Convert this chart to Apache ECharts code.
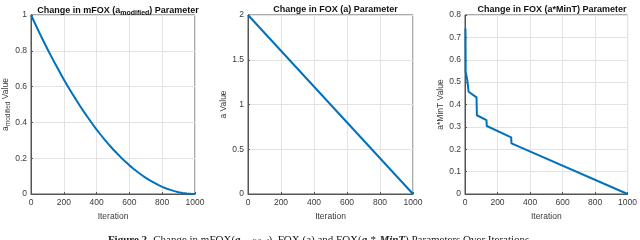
<!DOCTYPE html>
<html><head><meta charset="utf-8">
<script src="https://cdn.jsdelivr.net/npm/echarts@6/dist/echarts.min.js"></script>
<style>html,body{margin:0;padding:0;background:#fff}#c{width:640px;height:240px}</style>
</head><body><div id="c"></div>
<script>
// Chart 1: mFOX a_modified (iteration, value)
const modIter = [0,25,50,75,100,125,150,175,200,225,250,275,300,325,350,375,400,425,450,475,500,525,550,575,600,625,650,675,700,725,750,775,800,825,850,875,900,925,950,975,1000];
const modVal  = [1,0.951,0.903,0.856,0.81,0.766,0.723,0.681,0.64,0.601,0.563,0.526,0.49,0.456,0.423,0.391,0.36,0.331,0.303,0.276,0.25,0.226,0.203,0.181,0.16,0.141,0.123,0.106,0.09,0.076,0.063,0.051,0.04,0.031,0.023,0.016,0.01,0.006,0.003,0.001,0];
// Chart 2: FOX a
const aIter = [0,1000];
const aVal  = [2,0];
// Chart 3: FOX a*MinT
const mintIter = [3,4,13,14,21,22,71,73,132,134,284,286,1000];
const mintVal  = [0.74,0.547,0.54,0.51,0.505,0.457,0.432,0.352,0.33,0.304,0.253,0.226,0];
const xTicks = [0,200,400,600,800,1000];

const pair = (xs, ys) => xs.map((x,i)=>[x,ys[i]]);
const FONT = 'Liberation Sans, Arial, sans-serif';
const lineColor = '#0072BD';
const axisCol = '#555';
const labelCol = '#3a3a3a';
const grids = [
  {left:31, width:164, top:15, height:179},
  {left:248, width:165, top:15, height:179},
  {left:465, width:164, top:15, height:179}
];
const yCfg = [
  {max:1, interval:0.2, name:'{t|a}{s|modified}{t| Value}'},
  {max:2, interval:0.5, name:'a Value'},
  {max:0.8, interval:0.1, name:'a*MinT Value'}
];
const titles = [
  '{t|Change in mFOX (a}{s|modified}{t|) Parameter}',
  'Change in FOX (a) Parameter',
  'Change in FOX (a*MinT) Parameter'
];
const series = [pair(modIter,modVal), pair(aIter,aVal), pair(mintIter,mintVal)];

const option = {
  backgroundColor:'#fff',
  animation:false,
  title: grids.map((g,i)=>({
    text: titles[i],
    left: g.left + g.width/2, top: 0, textAlign:'center',
    textStyle:{fontFamily:FONT, fontSize:9, fontWeight:'bold', color:'#111',
      rich:{t:{fontFamily:FONT,fontSize:9,fontWeight:'bold',color:'#111'},
            s:{fontFamily:FONT,fontSize:7,fontWeight:'bold',color:'#111',padding:[5,0,0,0]}}}
  })),
  grid: grids.map(g=>Object.assign({show:true, borderColor:axisCol, borderWidth:1, backgroundColor:'#fff'}, g)),
  xAxis: grids.map((g,i)=>({
    gridIndex:i, type:'value', min:0, max:1000, interval:200,
    name:'Iteration', nameLocation:'middle', nameGap:16,
    nameTextStyle:{fontFamily:FONT, fontSize:8.5, color:labelCol},
    axisLine:{show:true, lineStyle:{color:axisCol, width:1}},
    axisTick:{show:true, inside:true, length:2, lineStyle:{color:axisCol}},
    axisLabel:{fontFamily:FONT, fontSize:8.5, color:labelCol, margin:4,
      formatter:v=>xTicks.includes(v)?String(v):''},
    splitLine:{show:true, lineStyle:{color:'#e3e3e3', width:1}}
  })),
  yAxis: grids.map((g,i)=>({
    gridIndex:i, type:'value', min:0, max:yCfg[i].max, interval:yCfg[i].interval,
    name:yCfg[i].name, nameLocation:'middle', nameGap:i===0?18:17, nameRotate:90,
    nameTextStyle:{fontFamily:FONT, fontSize:8.5, color:labelCol,
      rich:{t:{fontFamily:FONT,fontSize:8.5,color:labelCol},
            s:{fontFamily:FONT,fontSize:6.5,color:labelCol,padding:[4,0,0,0]}}},
    axisLine:{show:true, lineStyle:{color:axisCol, width:1}},
    axisTick:{show:true, inside:true, length:2, lineStyle:{color:axisCol}},
    axisLabel:{fontFamily:FONT, fontSize:8.5, color:labelCol, margin:4},
    splitLine:{show:true, lineStyle:{color:'#e3e3e3', width:1}}
  })),
  series: series.map((d,i)=>({
    type:'line', xAxisIndex:i, yAxisIndex:i, data:d, showSymbol:false,
    smooth:false,
    lineStyle:{color:lineColor, width:2, join:'round'}, clip:false
  })),
  graphic:[{
    type:'text', left:'center', top:234,
    style:{
      text:'{b|Figure 2.} {r|Change in mFOX(}{i|a}{s|modified}{r|), FOX (a) and FOX(}{i|a} {r|*} {i|MinT}{r|) Parameters Over Iterations.}',
      rich:{
        b:{fontFamily:'Liberation Serif, serif', fontSize:11, fontWeight:'bold', fill:'#222'},
        r:{fontFamily:'Liberation Serif, serif', fontSize:11, fill:'#222'},
        i:{fontFamily:'Liberation Serif, serif', fontSize:11, fontStyle:'italic', fontWeight:'bold', fill:'#222'},
        s:{fontFamily:'Liberation Serif, serif', fontSize:8, fontStyle:'italic', fill:'#222', padding:[5,0,0,0]}
      }
    }
  }]
};
const chart = echarts.init(document.getElementById('c'), null, {renderer:'canvas'});
chart.setOption(option);
</script></body></html>
